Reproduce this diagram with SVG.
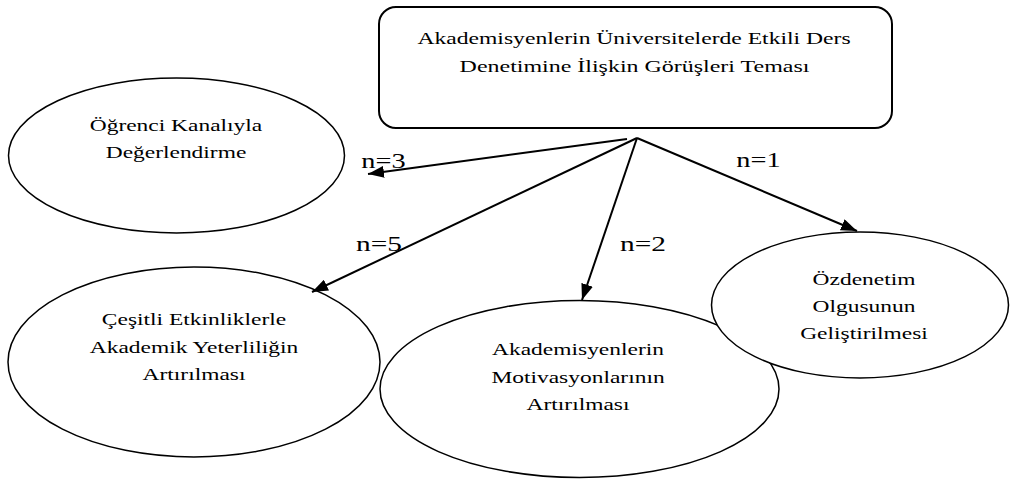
<svg xmlns="http://www.w3.org/2000/svg" width="1010" height="484" viewBox="0 0 1010 484">
<style>
.shape{fill:#fff;stroke:#000;stroke-width:1.5}
.box{fill:#fff;stroke:#000;stroke-width:2}
.t{font-family:"Liberation Serif","Times New Roman",serif;font-size:17.5px;fill:#000;text-anchor:middle}
.lbl{font-family:"Liberation Serif","Times New Roman",serif;font-size:21px;fill:#000;text-anchor:middle}
.edge{fill:none;stroke:#000;stroke-width:2;marker-end:url(#ah)}
</style>
<defs>
<marker id="ah" markerUnits="userSpaceOnUse" markerWidth="16" markerHeight="12" viewBox="0 0 16 12" refX="16" refY="6" orient="auto">
<path d="M0,0 L16,6 L0,12 Z" fill="#000"/>
</marker>
</defs>
<g id="theme">
<rect class="box" x="379" y="7" width="513" height="121" rx="17" ry="17"/>
<text class="t" transform="translate(634,0) scale(1.35,1)" x="0" y="44">Akademisyenlerin Üniversitelerde Etkili Ders</text>
<text class="t" transform="translate(634.5,0) scale(1.37,1)" x="0" y="72">Denetimine İlişkin Görüşleri Teması</text>
</g>
<g id="ogrenci">
<ellipse class="shape" cx="176.5" cy="155.5" rx="168" ry="77.5"/>
<text class="t" transform="translate(176,0) scale(1.34,1)" x="0" y="131">Öğrenci Kanalıyla</text>
<text class="t" transform="translate(176,0) scale(1.34,1)" x="0" y="158">Değerlendirme</text>
</g>
<g id="cesitli">
<ellipse class="shape" cx="194" cy="362" rx="186" ry="95"/>
<text class="t" transform="translate(194,0) scale(1.34,1)" x="0" y="325">Çeşitli Etkinliklerle</text>
<text class="t" transform="translate(194,0) scale(1.34,1)" x="0" y="353">Akademik Yeterliliğin</text>
<text class="t" transform="translate(194,0) scale(1.34,1)" x="0" y="380">Artırılması</text>
</g>
<g id="motivasyon">
<ellipse class="shape" cx="579.5" cy="389" rx="199.5" ry="88.5"/>
<text class="t" transform="translate(578,0) scale(1.34,1)" x="0" y="355">Akademisyenlerin</text>
<text class="t" transform="translate(578,0) scale(1.34,1)" x="0" y="383">Motivasyonlarının</text>
<text class="t" transform="translate(578,0) scale(1.34,1)" x="0" y="410">Artırılması</text>
</g>
<g id="ozdenetim">
<ellipse class="shape" cx="860" cy="305" rx="148.5" ry="73"/>
<text class="t" transform="translate(864,0) scale(1.34,1)" x="0" y="285">Özdenetim</text>
<text class="t" transform="translate(864,0) scale(1.34,1)" x="0" y="312">Olgusunun</text>
<text class="t" transform="translate(864,0) scale(1.34,1)" x="0" y="339">Geliştirilmesi</text>
</g>
<g id="connectors">
<path class="edge" d="M627,139 L368,174"/>
<path class="edge" d="M637,138 L312,292"/>
<path class="edge" d="M637,138 L582,300"/>
<path class="edge" d="M637,138 L857,231"/>
<text class="lbl" transform="translate(383.5,0) scale(1.35,1)" x="0" y="168">n=3</text>
<text class="lbl" transform="translate(379,0) scale(1.4,1)" x="0" y="251">n=5</text>
<text class="lbl" transform="translate(643,0) scale(1.4,1)" x="0" y="251">n=2</text>
<text class="lbl" transform="translate(758.5,0) scale(1.35,1)" x="0" y="167">n=1</text>
</g>
</svg>
